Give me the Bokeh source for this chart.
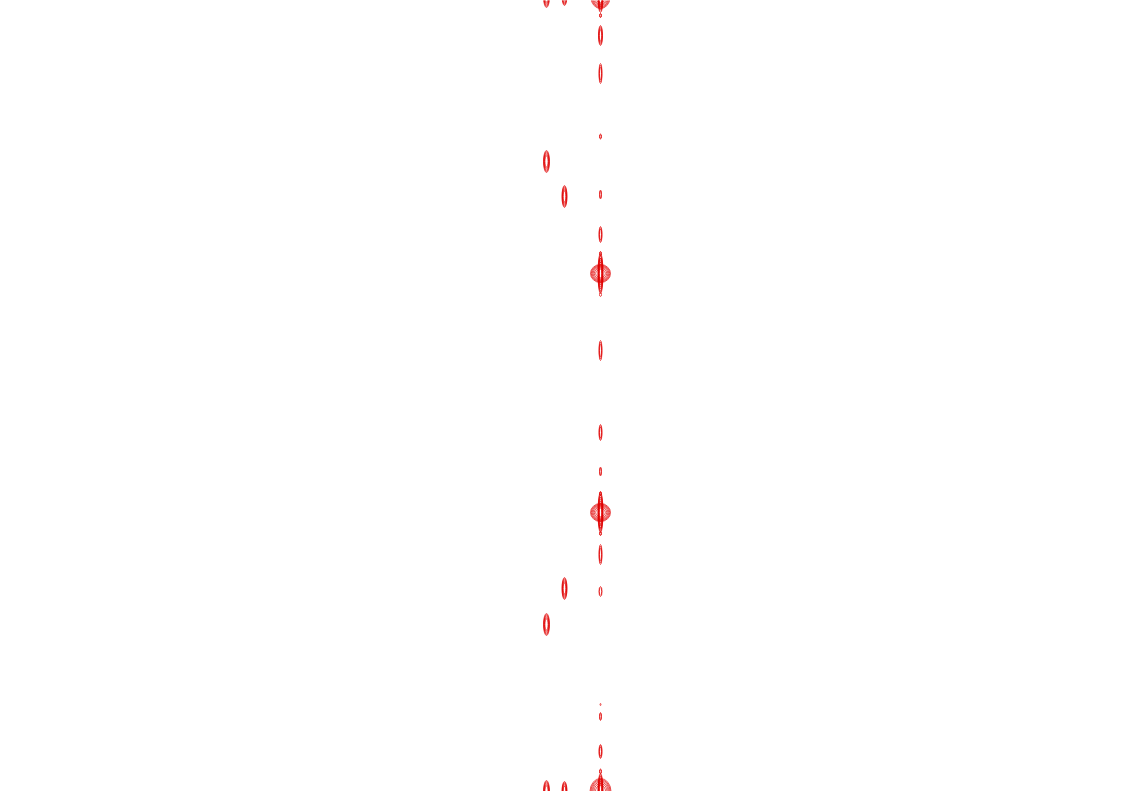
from bokeh.plotting import figure
from bokeh.models import Range1d, ColumnDataSource
from bokeh.embed import file_html
from bokeh.resources import INLINE
import numpy as np

# Peak list of the 2D contour spectrum (position along F2, position along F1,
# outer contour full width, outer contour full height, number of contour levels)
peak_f2 = [546, 546, 546, 546,
           564, 564, 564, 564,
           600, 600, 600, 600, 600, 600, 600, 600, 600, 600, 600, 600,
           600, 600, 600, 600, 600, 600, 600, 600, 600, 600, 600, 600,
           600, 600, 600, 600, 600]
peak_f1 = [-4, 161, 624, 791,
           -5, 196, 588, 791,
           -3, -3, 15, 35, 73, 136, 194, 234, 253, 273, 273, 294,
           350, 432, 471, 493, 512, 512, 533, 554, 591, 704, 716, 751,
           771, 791, 791, 260, 526]
peak_w = [6, 6, 6, 6,
          5, 5, 5, 5,
          19, 5, 2, 4, 3, 2, 2, 3, 2, 20, 5, 2,
          3, 3, 2, 2, 20, 5, 2, 3, 3, 1, 2, 3,
          2, 21, 5, 2, 2]
peak_h = [22, 22, 22, 22,
          20, 22, 22, 20,
          22, 30, 4, 20, 20, 5, 9, 16, 4, 18, 40, 4,
          20, 16, 9, 4, 18, 40, 4, 20, 10, 2, 8, 14,
          5, 26, 36, 4, 4]
peak_levels = [5, 5, 5, 5,
               5, 5, 5, 5,
               6, 6, 2, 4, 3, 2, 2, 3, 2, 6, 7, 1,
               3, 3, 2, 2, 6, 7, 2, 3, 2, 1, 2, 3,
               2, 6, 7, 1, 1]

xs, ys, ws, hs = [], [], [], []
for x, y, w, h, n in zip(peak_f2, peak_f1, peak_w, peak_h, peak_levels):
    for k in range(n):
        f = np.sqrt(1.0 - k / (n + 0.5))
        xs.append(x)
        ys.append(y)
        ws.append(w * f)
        hs.append(h * f)

src = ColumnDataSource(dict(x=xs, y=ys, w=ws, h=hs))

p = figure(width=1133, height=791, output_backend="svg", toolbar_location=None,
           x_range=Range1d(0, 1133), y_range=Range1d(791, 0),
           min_border=0)
p.axis.visible = False
p.grid.visible = False
p.outline_line_color = None
p.background_fill_color = "white"
p.border_fill_color = "white"

p.ellipse(x="x", y="y", width="w", height="h", source=src,
          fill_color=None, line_color="#e00000", line_width=0.8, line_alpha=0.85)

open("out.html", "w").write(file_html(p, INLINE))
